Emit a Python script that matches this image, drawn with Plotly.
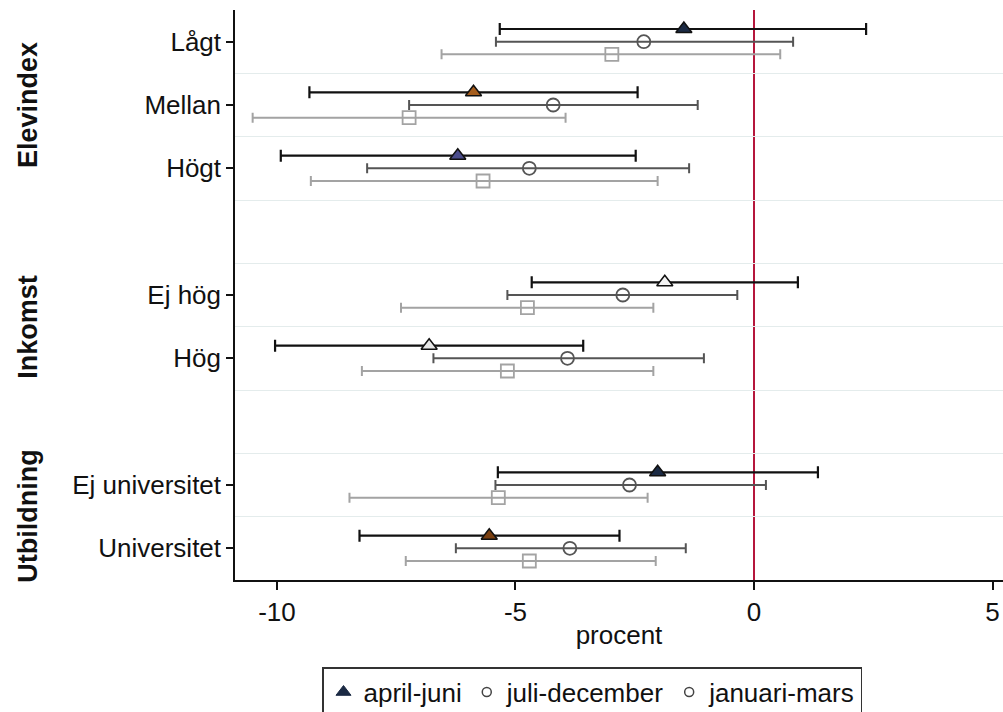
import plotly.graph_objects as go

# Categories and their row positions (gaps separate the three groups)
categories = ["Lågt", "Mellan", "Högt", "Ej hög", "Hög", "Ej universitet", "Universitet"]
row_pos = [0, 1, 2, 4, 5, 7, 8]

groups = ["Elevindex", "Inkomst", "Utbildning"]
group_center = [1, 4.5, 7.5]

# april-juni: estimate and confidence interval
apr_est = [-1.47, -5.88, -6.21, -1.87, -6.81, -2.02, -5.55]
apr_lo = [-5.33, -9.32, -9.92, -4.66, -10.04, -5.37, -8.27]
apr_hi = [2.35, -2.44, -2.48, 0.92, -3.58, 1.34, -2.82]

# juli-december
jul_est = [-2.31, -4.21, -4.71, -2.75, -3.91, -2.61, -3.86]
jul_lo = [-5.41, -7.23, -8.11, -5.17, -6.72, -5.42, -6.25]
jul_hi = [0.82, -1.18, -1.36, -0.35, -1.05, 0.25, -1.43]

# januari-mars
jan_est = [-2.98, -7.23, -5.68, -4.75, -5.17, -5.36, -4.71]
jan_lo = [-6.55, -10.51, -9.29, -7.40, -8.22, -8.48, -7.30]
jan_hi = [0.55, -3.95, -2.02, -2.11, -2.11, -2.23, -2.06]

x_ticks = [-10, -5, 0, 5]

apr_fill = ["#1b2a44", "#a65e1e", "#4b4d8c", "#f4f4f4", "#e8e8e8", "#1b2a44", "#7a3f10"]

FONT = "Liberation Sans, Arial, sans-serif"
FS = 26


def ci(est, lo, hi):
    plus = [h - e for e, h in zip(est, hi)]
    minus = [e - l for e, l in zip(est, lo)]
    return plus, minus


fig = go.Figure()

series = [
    ("april-juni", apr_est, apr_lo, apr_hi, -0.2, "#111111", 2.2, 6,
     dict(symbol="triangle-up", size=14, color=apr_fill, line=dict(color="#111111", width=1.5))),
    ("juli-december", jul_est, jul_lo, jul_hi, 0.0, "#555555", 2, 5,
     dict(symbol="circle-open", size=13, color="#555555", line=dict(width=1.8))),
    ("januari-mars", jan_est, jan_lo, jan_hi, 0.2, "#a3a3a3", 2, 5,
     dict(symbol="square-open", size=13, color="#a3a3a3", line=dict(width=1.8))),
]

for name, est, lo, hi, off, col, lw, cap, marker in series:
    plus, minus = ci(est, lo, hi)
    fig.add_trace(go.Scatter(
        x=est,
        y=[p + off for p in row_pos],
        mode="markers",
        name=name,
        showlegend=False,
        marker=marker,
        error_x=dict(type="data", symmetric=False, array=plus, arrayminus=minus,
                     color=col, thickness=lw, width=cap),
        cliponaxis=False,
    ))

# legend keys
legend_keys = [
    ("april-juni", dict(symbol="triangle-up", size=13, color="#1b2a44", line=dict(color="#1b2a44", width=1))),
    ("juli-december", dict(symbol="circle-open", size=9, color="#444444", line=dict(width=1.5))),
    ("januari-mars", dict(symbol="circle-open", size=9, color="#444444", line=dict(width=1.5))),
]
for name, marker in legend_keys:
    fig.add_trace(go.Scatter(x=[None], y=[None], mode="markers", name=name, marker=marker))

# zero reference line
fig.add_vline(x=0, line=dict(color="#b5173c", width=2), layer="below")

for g, c in zip(groups, group_center):
    fig.add_annotation(
        text="<b>%s</b>" % g, x=0, xref="paper", y=c, yref="y",
        xshift=-207, textangle=-90, showarrow=False,
        font=dict(family=FONT, size=27, color="#111111"),
        xanchor="center", yanchor="middle",
    )

fig.update_layout(
    width=1003, height=712,
    margin=dict(l=235, r=0, t=10, b=132, autoexpand=False),
    paper_bgcolor="white", plot_bgcolor="white",
    font=dict(family=FONT, size=FS, color="#111111"),
    showlegend=True,
    legend=dict(
        orientation="h", x=322 / 1003, xref="container", xanchor="left",
        y=0.063, yref="container", yanchor="top",
        bordercolor="#333333", borderwidth=1.5,
        font=dict(family=FONT, size=FS, color="#111111"),
        itemsizing="trace", itemwidth=30, tracegroupgap=0,
    ),
    xaxis=dict(
        range=[-10.88, 5.22], tickvals=x_ticks, ticktext=[str(v) for v in x_ticks],
        showgrid=False, zeroline=False, showline=True, linecolor="#111111", linewidth=1.5,
        ticks="outside", ticklen=8, tickwidth=1.5, tickcolor="#111111",
        title=dict(text="procent", standoff=0, font=dict(size=FS)),
        tickfont=dict(size=FS),
    ),
    yaxis=dict(
        range=[8.5, -0.5], tickvals=row_pos, ticktext=categories,
        showgrid=False, zeroline=False, showline=True, linecolor="#111111", linewidth=1.5,
        ticks="outside", ticklen=7, tickwidth=1.5, tickcolor="#111111",
        tickfont=dict(size=FS),
        minor=dict(tick0=0.5, dtick=1, showgrid=True, gridcolor="#e4ecec", gridwidth=1, ticks=""),
    ),
)

fig.write_html("out.html")
